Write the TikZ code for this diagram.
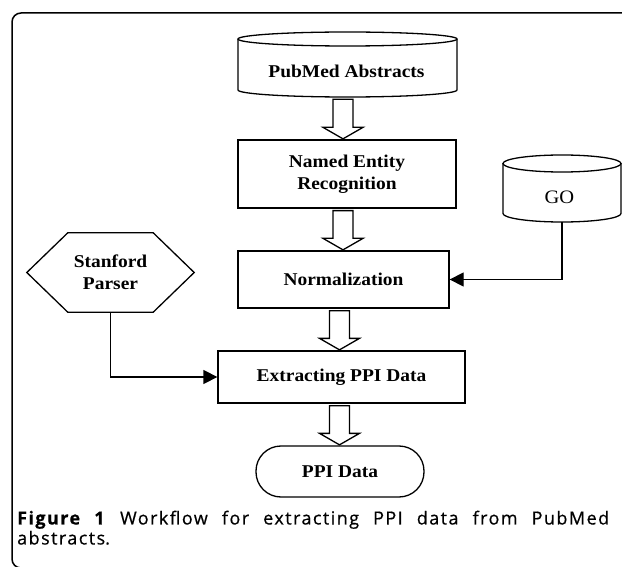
\documentclass[tikz,border=0pt]{standalone}
\usepackage{fontspec}
\setmainfont{Liberation Serif}
\newfontfamily\diagfont[FakeStretch=1.08]{Liberation Serif}
\newfontfamily\capfont[LetterSpace=8,FakeBold=0.5]{Open Sans}
\usetikzlibrary{calc,arrows.meta}
\newcommand\hollowarrow[3]{%
  \draw[blockarrow] let \p1=(#2), \p2=(#3) in
    (#1pt-10pt,\y1-2pt) -- (#1pt-10pt,\y2+12pt) -- (#1pt-20pt,\y2+12pt) --
    (#1pt,\y2+0.5pt) -- (#1pt+20pt,\y2+12pt) -- (#1pt+10pt,\y2+12pt) --
    (#1pt+10pt,\y1-2pt) -- cycle;}
\tikzset{
  box/.style={draw, line width=1.3pt, inner sep=0pt, align=center,
    font=\diagfont\bfseries\fontsize{18}{22}\selectfont},
  lbl/.style={inner sep=0pt, align=center,
    font=\diagfont\bfseries\fontsize{18}{22}\selectfont},
  shapeline/.style={line width=1.3pt},
  blockarrow/.style={line width=1.3pt, fill=white},
  conn/.style={line width=1.3pt, -{Triangle[length=14pt,width=14pt]}},
  frame/.style={line width=1.5pt, rounded corners=9pt}
}
\begin{document}
\begin{tikzpicture}[x=1pt,y=1pt]
\useasboundingbox (0,0) rectangle (622,-567);
\fill[white] (0,0) rectangle (622,-567);
\draw[frame] (12,-13) rectangle (645,-568);

% PubMed cylinder
\node[inner sep=0, minimum width=219pt, minimum height=65pt] (pub) at (347.5,-64.5) {};
\draw[shapeline] (347.5,-39) ellipse [x radius=109.5pt, y radius=7pt];
\draw[shapeline] (238,-39) -- (238,-90) arc[start angle=180, end angle=360, x radius=109.5pt, y radius=7pt] -- (457,-39);
\node[lbl] (pubtext) at (346.5,-71) {PubMed Abstracts};

% NER
\node[box, minimum width=218pt, minimum height=68pt] (ner) at (347,-174) {Named Entity\\Recognition};

% GO cylinder
\node[inner sep=0, minimum width=118pt, minimum height=67pt] (go) at (562,-188.5) {};
\draw[shapeline] (562,-163.5) ellipse [x radius=59pt, y radius=8.5pt];
\draw[shapeline] (503,-163.5) -- (503,-213.5) arc[start angle=180, end angle=360, x radius=59pt, y radius=8.5pt] -- (621,-163.5);
\node[inner sep=0, font=\diagfont\fontsize{19}{22}\selectfont] (gotext) at (559.5,-197) {GO};

% Normalization
\node[box, minimum width=211pt, minimum height=57pt] (norm) at (343.5,-279.5) {Normalization};

% Stanford Parser hexagon
\node[lbl, minimum width=167pt, minimum height=79pt] (sp) at (110.5,-272.5) {Stanford\\Parser};
\draw[shapeline] (sp.west) -- ($(sp.north west)+(41,0)$) -- ($(sp.north east)+(-41,0)$) -- (sp.east)
  -- ($(sp.south east)+(-41,0)$) -- ($(sp.south west)+(41,0)$) -- cycle;

% Extracting
\node[box, minimum width=247pt, minimum height=52pt] (ext) at (341.5,-377) {Extracting PPI Data};

% PPI Data
\node[box, rounded corners=25pt, minimum width=168pt, minimum height=51pt] (ppi) at (340,-471.5) {PPI Data};

% hollow arrows
\hollowarrow{343}{pub.south}{ner.north}
\hollowarrow{343}{ner.south}{norm.north}
\hollowarrow{339.5}{norm.south}{ext.north}
\hollowarrow{339.5}{ext.south}{ppi.north}

% connectors
\draw[conn] (go.south) |- (norm.east);
\draw[conn] (sp.south) |- (ext.west);

% caption
\node[anchor=north west, inner sep=0pt, text width=592pt, align=justify,
  font=\capfont\fontsize{18}{20}\selectfont] (cap) at (17,-510.5)
  {\hyphenpenalty=10000 \exhyphenpenalty=10000 \textbf{Figure 1} Workflow for extracting PPI data from PubMed \mbox{abstracts}.};
\end{tikzpicture}
\end{document}
